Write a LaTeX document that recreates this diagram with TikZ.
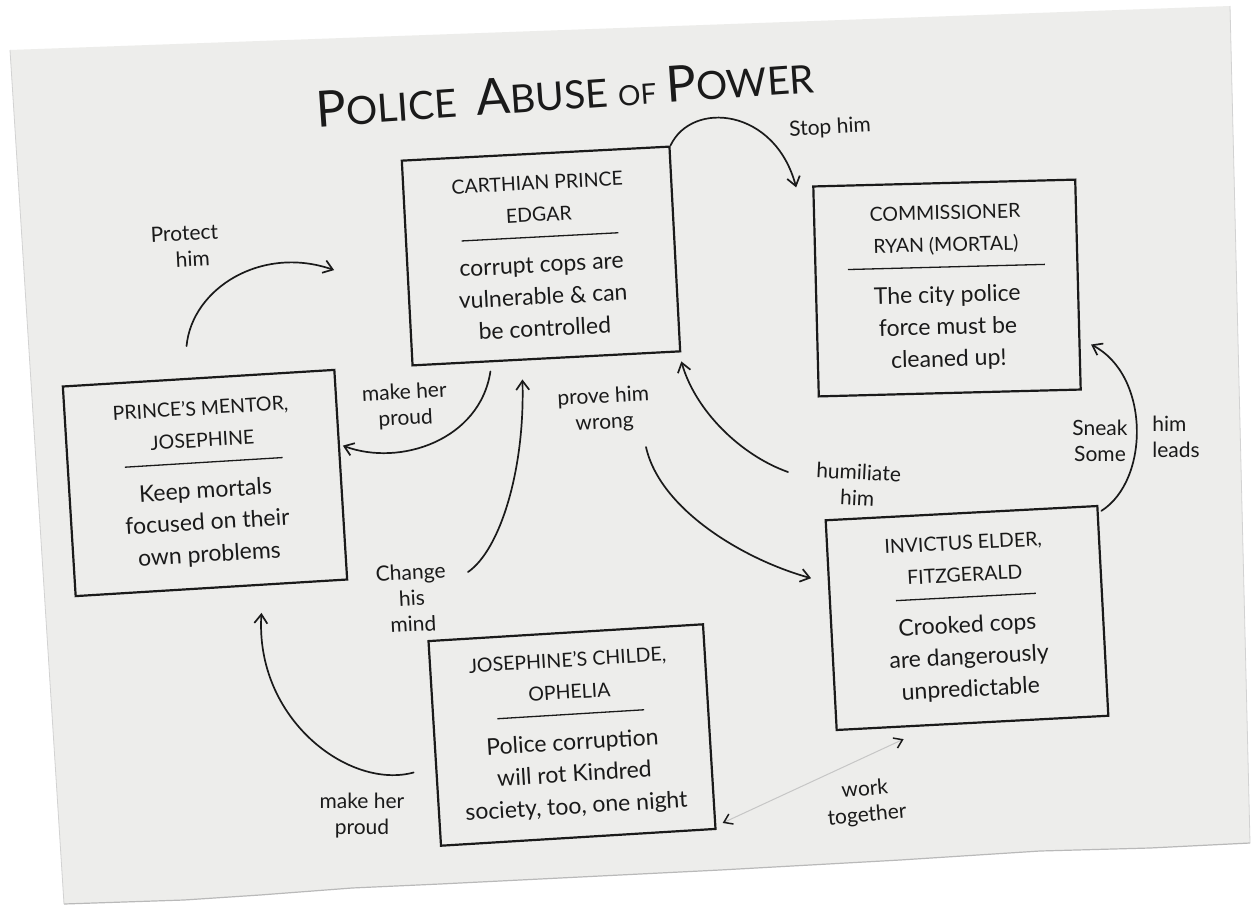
\documentclass[tikz,border=0pt]{standalone}
\usepackage{fontspec}
\setmainfont{Lato}
\usetikzlibrary{arrows.meta}
\definecolor{paper}{HTML}{EDEDEB}
\definecolor{ink}{HTML}{1A1A1A}
\newcommand\bodyfont{\fontsize{23}{32}\selectfont}
\newcommand\headfont{\fontsize{19.5}{27}\selectfont}
\newcommand\labfont{\fontsize{21}{26}\selectfont}
\tikzset{
  box/.style={draw=ink, line width=2.2pt, rectangle, align=center, font=\bodyfont, text=ink, inner sep=4pt},
  lab/.style={font=\labfont, text=ink, align=center, inner sep=1pt},
  ttl/.style={text=ink, rotate=4, inner sep=0pt, anchor=base west},
  arr/.style={draw=ink, line width=1.7pt, line cap=round, -{Straight Barb[length=9pt,width=13pt,line width=1.7pt]}},
  faint/.style={draw=gray!45, line width=1pt, {Straight Barb[length=8pt,width=11pt,color=ink,line width=1.5pt]}-{Straight Barb[length=8pt,width=11pt,color=ink,line width=1.5pt]}}
}
\begin{document}
\begin{tikzpicture}[x=1pt,y=-1pt]
\useasboundingbox (0,0) rectangle (1253,908);
\fill[white] (0,0) rectangle (1253,908);
% torn paper sheet
\fill[paper] (10,50) -- (1230,6) -- (1250,843) -- (1150,848) -- (1040,851) -- (900,860) -- (720,870) -- (560,878) -- (440,884) -- (352,888) -- (260,895) -- (184,900) -- (64,904) -- cycle;
\draw[gray!55, line width=1.2pt] (1250,843) -- (1150,848) -- (1040,851) -- (900,860) -- (720,870) -- (560,878) -- (440,884) -- (352,888) -- (260,895) -- (184,900) -- (64,904);
\draw[gray!35, line width=0.8pt] (10,50) -- (64,904);
\draw[gray!35, line width=0.8pt] (1230,6) -- (1250,843);

% title
\node[text=ink, rotate=4, inner sep=0pt, font=\fontsize{39}{44}\selectfont] (title) at (565,92)
  {{\fontsize{50}{50}\selectfont P}OLICE\hspace{20pt}{\fontsize{50}{50}\selectfont A}BUSE\hspace{10pt}{\fontsize{28}{28}\selectfont OF}\hspace{10pt}{\fontsize{50}{50}\selectfont P}OWER};

% boxes
\node[box, rotate=3, minimum width=268pt, minimum height=205pt] (edgar) at (541,256)
  {{\headfont CARTHIAN PRINCE}\\{\headfont EDGAR}\\[-8pt]\rule[8pt]{157pt}{1.3pt}\\[-5pt]corrupt cops are\\vulnerable \& can\\be controlled};
\node[box, rotate=1.5, minimum width=262pt, minimum height=210pt] (ryan) at (947,288)
  {{\headfont COMMISSIONER}\\{\headfont RYAN (MORTAL)}\\[-8pt]\rule[8pt]{197pt}{1.3pt}\\[-5pt]The city police\\force must be\\cleaned up!};
\node[box, rotate=3.5, minimum width=272pt, minimum height=210pt] (josephine) at (205,483)
  {{\headfont PRINCE'S MENTOR,}\\{\headfont JOSEPHINE}\\[-8pt]\rule[8pt]{158pt}{1.3pt}\\[-5pt]Keep mortals\\focused on their\\own problems};
\node[box, rotate=3, minimum width=272pt, minimum height=210pt] (fitz) at (967,618)
  {{\headfont INVICTUS ELDER,}\\{\headfont FITZGERALD}\\[-8pt]\rule[8pt]{140pt}{1.3pt}\\[-5pt]Crooked cops\\are dangerously\\unpredictable};
\node[box, rotate=3.5, minimum width=275pt, minimum height=205pt] (ophelia) at (572,735)
  {{\headfont JOSEPHINE'S CHILDE,}\\{\headfont OPHELIA}\\[-8pt]\rule[8pt]{147pt}{1.3pt}\\[-5pt]Police corruption\\will rot Kindred\\society, too, one night};

% labels
\node[lab, rotate=3] (stop) at (830,128) {Stop him};
\node[lab, rotate=3] (protect) at (185,246) {Protect\\\hspace*{14pt}him};
\node[lab, rotate=3] (mhp1) at (405,406) {make her\\proud};
\node[lab, rotate=3] (chg) at (412,598) {Change\\his\\mind};
\node[lab, rotate=3] (prv) at (604,410) {prove him\\wrong};
\node[lab, rotate=-3] (hum) at (858,485) {humiliate\\him};
\node[lab] (snk) at (1100,441) {Sneak\\Some};
\node[lab, align=left] (lds) at (1176,437) {him\\leads};
\node[lab] (mhp2) at (362,816) {make her\\proud};
\node[lab, rotate=5] (work) at (866,803) {work\\together};

% connectors
\draw[arr] (edgar.north east) .. controls (692,100) and (775,108) .. ([shift={(-16,2)}]ryan.north west);
\draw[arr] ([shift={(-12,-31)}]josephine.north) .. controls (192,288) and (262,245) .. ([shift={(-72,7)}]edgar.west);
\draw[arr] ([shift={(-56,12)}]edgar.south) .. controls (480,440) and (400,467) .. ([shift={(1,-29)}]josephine.east);
\draw[arr] ([shift={(56,-26)}]chg.center) .. controls (500,550) and (525,470) .. ([shift={(-24,20)}]edgar.south);
\draw[arr] ([shift={(42,37)}]prv.center) .. controls (660,510) and (745,560) .. ([shift={(-19,-47)}]fitz.west);
\draw[arr] ([shift={(-70,-13)}]hum.center) .. controls (740,455) and (695,410) .. ([shift={(0,9)}]edgar.south east);
\draw[arr] ([shift={(3,6)}]fitz.north east) .. controls (1150,480) and (1150,375) .. ([shift={(12,60)}]ryan.east);
\draw[arr] ([shift={(-20,29)}]ophelia.west) .. controls (350,790) and (255,720) .. ([shift={(50,24)}]josephine.south);
\draw[faint] ([shift={(6,-7)}]ophelia.south east) -- ([shift={(68,8)}]fitz.south west);
\end{tikzpicture}
\end{document}
